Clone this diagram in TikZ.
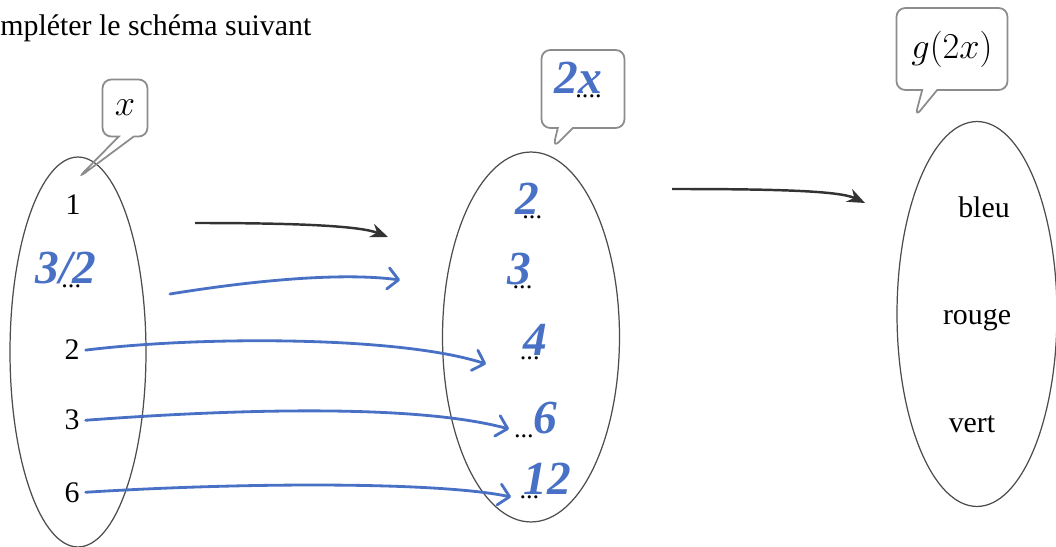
\documentclass[tikz,border=0pt]{standalone}
\usepackage{fontspec}
\setmainfont{Liberation Serif}
\usetikzlibrary{shapes.geometric, shapes.callouts, arrows.meta, positioning}
\definecolor{hwblue}{RGB}{72,112,196}

\begin{document}
\begin{tikzpicture}[
        x=0.02cm, y=-0.02cm,
        font=\fontsize{17}{20}\selectfont,
        set/.style={ellipse, draw=black!70, line width=0.7pt},
        bubble/.style={rectangle callout, draw=black!45, line width=1pt, rounded corners=5pt, callout pointer width=0.3cm, font=\fontsize{20}{24}\selectfont},
        hw/.style={text=hwblue, inner sep=0pt, font=\fontsize{27}{30}\selectfont\itshape\bfseries},
        blanks/.style={inner sep=0pt, font=\fontsize{15}{18}\selectfont},
        printarrow/.style={draw=black!80, line width=1.4pt, -{Stealth[length=10pt,width=8pt]}},
        hwarrow/.style={draw=hwblue, line width=1.6pt, line cap=round, -{Straight Barb[length=6pt,width=12pt,round]}}
    ]
        \useasboundingbox (0,0) rectangle (1056,547);

        \node[anchor=base west, inner sep=0pt] (title) at (0,36) {mpléter le schéma suivant};

        % the three sets
        \node[set, minimum width=2.72cm, minimum height=7.8cm] (setA) at (78,352) {};
        \node[set, minimum width=3.54cm, minimum height=7.4cm] (setB) at (531,337) {};
        \node[set, minimum width=3.2cm, minimum height=7.7cm] (setC) at (977,314) {};

        % bubbles
        \node[bubble, minimum width=0.9cm, minimum height=1.14cm, callout absolute pointer={(78,178)}] (bubA) at (125,108) {$x$};
        \node[bubble, minimum width=1.66cm, minimum height=1.56cm, callout absolute pointer={(553,148)}] (bubB) at (583,89) {};
        \node[bubble, minimum width=2.22cm, minimum height=1.64cm, callout absolute pointer={(915,117)}] (bubC) at (952,49) {$g(2x)$};
        \node[hw] (bubBtxt) at (578,78) {2x};
        \node[blanks, below=0pt of bubBtxt, xshift=6pt] (bubBdots) {....};

        % first set
        \node[anchor=base] (a1) at (73,215) {1};
        \node[hw] (a32) at (66,268) {3/2};
        \node[blanks, below=0pt of a32, xshift=3pt] (a32dots) {...};
        \node[anchor=base] (a2) at (72,360) {2};
        \node[anchor=base] (a3) at (72,430) {3};
        \node[anchor=base] (a6) at (72,502) {6};

        % second set
        \node[hw] (b2) at (527,199) {2};
        \node[blanks, below=0pt of b2, xshift=3pt] (b2dots) {...};
        \node[hw] (b3) at (519,269) {3};
        \node[blanks, below=0pt of b3, xshift=2pt] (b3dots) {...};
        \node[hw] (b4) at (535,340) {4};
        \node[blanks, below=0pt of b4, xshift=-3pt] (b4dots) {...};
        \node[hw] (b6) at (545,418) {6};
        \node[blanks, below=0pt of b6, xshift=-12pt] (b6dots) {...};
        \node[hw] (b12) at (547,479) {12};
        \node[blanks, below=0pt of b12, xshift=-10pt] (b12dots) {...};

        % third set
        \node[anchor=base] (c1) at (984,218) {bleu};
        \node[anchor=base] (c2) at (977,325) {rouge};
        \node[anchor=base] (c3) at (972,433) {vert};

        % printed arrows
        \coordinate (pA) at (195,223);
        \coordinate (pB) at (388,237);
        \coordinate (pC) at (672,189);
        \coordinate (pD) at (865,203);
        \draw[printarrow] (pA) .. controls (300,223) and (360,226) .. (pB);
        \draw[printarrow] (pC) .. controls (780,189) and (840,191) .. (pD);

        % handwritten arrows
        \coordinate (hA) at (170,294);
        \coordinate (hB) at (400,280);
        \coordinate (t4) at (486,364);
        \coordinate (t6) at (509,429);
        \coordinate (t12) at (511,497);
        \draw[hwarrow] (hA) .. controls (250,281) and (340,272) .. (hB);
        \draw[hwarrow] (a2.east) .. controls (200,336) and (400,336) .. (t4);
        \draw[hwarrow] (a3.east) .. controls (250,408) and (420,405) .. (t6);
        \draw[hwarrow] (a6.east) .. controls (250,482) and (440,482) .. (t12);

    \end{tikzpicture}
\end{document}
